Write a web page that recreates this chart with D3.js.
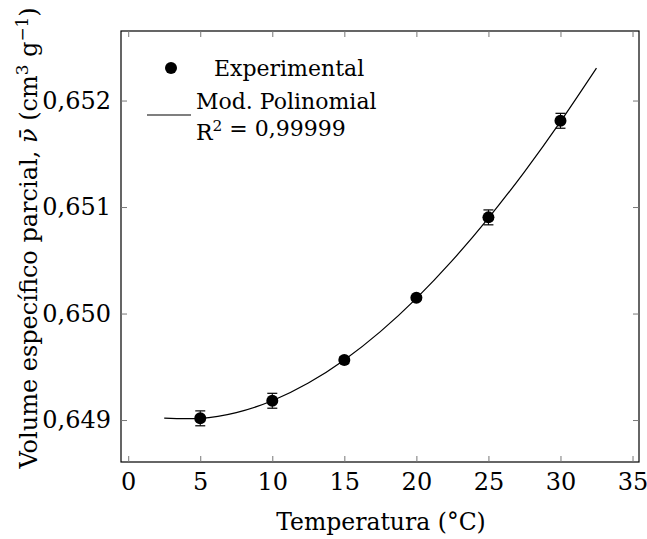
<!DOCTYPE html>
<html>
<head>
<meta charset="utf-8">
<script src="https://cdn.jsdelivr.net/npm/d3@7"></script>
<style>
html, body { margin: 0; padding: 0; background: #fff; }
svg text { font-family: "DejaVu Serif", "Liberation Serif", serif; fill: #000; }
</style>
</head>
<body>
<svg id="chart" width="647" height="539"></svg>
<script>
// Experimental data
const temps = [5, 10, 15, 20, 25, 30];
const volumes = [0.649016, 0.649181, 0.649563, 0.650148, 0.650903, 0.651810];
const errors = [0.00007, 0.00007, 0.00003, 0.00002, 0.00007, 0.00007];
// Polynomial model curve
const modelT = [2.5, 5, 7.5, 10, 12.5, 15, 17.5, 20, 22.5, 25, 27.5, 30, 32.5];
const modelV = [0.649018, 0.649016, 0.649070, 0.649181, 0.649347, 0.649564, 0.649830,
                0.650143, 0.650499, 0.650896, 0.651331, 0.651802, 0.652305];
// Ticks
const xTicks = [0, 5, 10, 15, 20, 25, 30, 35];
const yTicks = [0.649, 0.650, 0.651, 0.652];
const yTickLabels = ["0,649", "0,650", "0,651", "0,652"];

const svg = d3.select("#chart");
const L = 121, R = 639, T = 31, B = 462;
const FT = 24, FL = 22, FX = 23.5, FY = 24;

const x = d3.scaleLinear().domain([-0.5, 35.45]).range([L, R]);
const y = d3.scaleLinear().domain([0.648606, 0.652653]).range([B, T]);

// Frame
svg.append("rect").attr("x", L).attr("y", T).attr("width", R - L).attr("height", B - T)
  .attr("fill", "none").attr("stroke", "#000").attr("stroke-width", 1.2);

const tl = 6;
const gxB = svg.append("g").attr("transform", `translate(0,${B})`)
  .call(d3.axisBottom(x).tickValues(xTicks).tickSizeInner(-tl).tickSizeOuter(0).tickPadding(11));
const gxT = svg.append("g").attr("transform", `translate(0,${T})`)
  .call(d3.axisTop(x).tickValues(xTicks).tickSizeInner(-tl).tickSizeOuter(0).tickFormat(""));
const gyL = svg.append("g").attr("transform", `translate(${L},0)`)
  .call(d3.axisLeft(y).tickValues(yTicks).tickSizeInner(-tl).tickSizeOuter(0).tickPadding(10)
    .tickFormat((d, i) => yTickLabels[i]));
const gyR = svg.append("g").attr("transform", `translate(${R},0)`)
  .call(d3.axisRight(y).tickValues(yTicks).tickSizeInner(-tl).tickSizeOuter(0).tickFormat(""));
[gxB, gxT, gyL, gyR].forEach(g => {
  g.select(".domain").remove();
  g.selectAll(".tick line").attr("stroke", "#777").attr("stroke-width", 1);
  g.selectAll("text").attr("font-size", FT).attr("font-family", "DejaVu Serif");
});
gxB.selectAll("text").attr("dy", "0.71em");

// Model curve
const line = d3.line().x((d, i) => x(modelT[i])).y(d => y(d)).curve(d3.curveNatural);
svg.append("path").datum(modelV).attr("d", line)
  .attr("fill", "none").attr("stroke", "#000").attr("stroke-width", 1.2);

// Error bars
const eb = svg.append("g");
temps.forEach((t, i) => {
  const cx = x(t), y1 = y(volumes[i] - errors[i]), y2 = y(volumes[i] + errors[i]);
  eb.append("line").attr("x1", cx).attr("x2", cx).attr("y1", y1).attr("y2", y2).attr("stroke", "#000").attr("stroke-width", 1);
  [y1, y2].forEach(yy => eb.append("line").attr("x1", cx - 5).attr("x2", cx + 5).attr("y1", yy).attr("y2", yy)
    .attr("stroke", "#000").attr("stroke-width", 1.2));
});
// Points
svg.append("g").selectAll("circle").data(volumes).join("circle")
  .attr("cx", (d, i) => x(temps[i])).attr("cy", d => y(d)).attr("r", 6).attr("fill", "#000");

// Legend
const lg = svg.append("g");
lg.append("circle").attr("cx", 171).attr("cy", 68).attr("r", 6).attr("fill", "#000");
lg.append("text").attr("x", 214).attr("y", 68).attr("dy", "0.35em").attr("font-size", FL).text("Experimental");
lg.append("line").attr("x1", 147).attr("x2", 191).attr("y1", 115).attr("y2", 115).attr("stroke", "#000").attr("stroke-width", 1.2);
lg.append("text").attr("x", 196).attr("y", 101).attr("dy", "0.35em").attr("font-size", FL).text("Mod. Polinomial");
const r2 = lg.append("text").attr("x", 196).attr("y", 132).attr("dy", "0.35em").attr("font-size", FL);
r2.append("tspan").text("R");
r2.append("tspan").attr("font-size", FL * 0.7).attr("dy", "-0.55em").text("2");
r2.append("tspan").attr("dy", "0.2em").text(" = 0,99999");

// Axis titles
svg.append("text").attr("x", 381).attr("y", 522).attr("dy", "0.35em")
  .attr("text-anchor", "middle").attr("font-size", FX).text("Temperatura (°C)");
const yt = svg.append("text").attr("transform", `translate(29,238) rotate(-90)`)
  .attr("text-anchor", "middle").attr("dy", "0.35em").attr("font-size", FY);
yt.append("tspan").text("Volume específico parcial, ");
yt.append("tspan").attr("font-style", "italic").text("ν\u0304");
yt.append("tspan").text(" (cm");
yt.append("tspan").attr("font-size", FY * 0.7).attr("dy", "-0.55em").text("3");
yt.append("tspan").attr("dy", "0.385em").text(" g");
yt.append("tspan").attr("font-size", FY * 0.7).attr("dy", "-0.55em").text("−1");
yt.append("tspan").attr("dy", "0.385em").text(")");
</script>
</body>
</html>
